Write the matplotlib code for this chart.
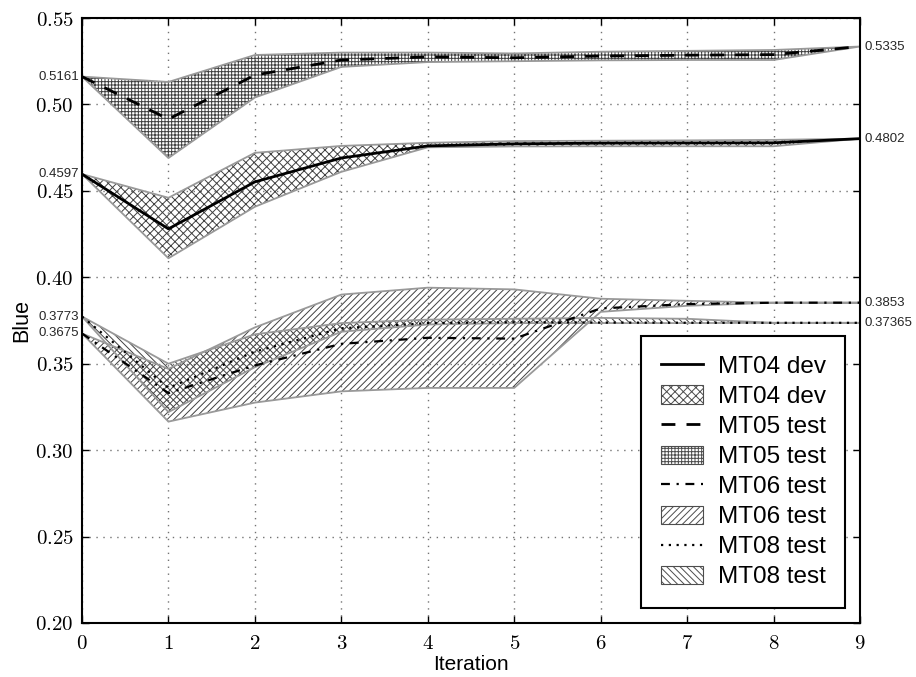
import matplotlib
matplotlib.use("Agg")
import matplotlib.pyplot as plt
import matplotlib.patches as mpatches
from matplotlib.lines import Line2D
import numpy as np

# ---------------- data ----------------
iterations = [0, 1, 2, 3, 4, 5, 6, 7, 8, 9]

mt04_dev = [0.4597, 0.428, 0.4552, 0.469, 0.476, 0.4772, 0.4776, 0.4777, 0.4778, 0.4802]
mt04_low = [0.4597, 0.411, 0.4408, 0.461, 0.4752, 0.4757, 0.4758, 0.4758, 0.4758, 0.4802]
mt04_up = [0.4597, 0.446, 0.472, 0.476, 0.4778, 0.4788, 0.479, 0.4792, 0.4795, 0.4802]

mt05_test = [0.5161, 0.4915, 0.517, 0.5257, 0.5275, 0.527, 0.528, 0.5285, 0.5288, 0.5335]
mt05_low = [0.5161, 0.469, 0.504, 0.5217, 0.5245, 0.525, 0.5255, 0.5257, 0.5257, 0.5335]
mt05_up = [0.5161, 0.513, 0.5286, 0.530, 0.530, 0.5295, 0.5305, 0.531, 0.5315, 0.5335]

mt06_test = [0.3675, 0.333, 0.349, 0.3615, 0.365, 0.3645, 0.382, 0.3845, 0.3853, 0.3853]
mt06_low = [0.3675, 0.3165, 0.3275, 0.334, 0.336, 0.336, 0.380, 0.3835, 0.3853, 0.3853]
mt06_up = [0.3675, 0.347, 0.371, 0.390, 0.394, 0.393, 0.3876, 0.3864, 0.3853, 0.3853]

mt08_test = [0.3773, 0.336, 0.357, 0.3705, 0.3735, 0.374, 0.3738, 0.3737, 0.37365, 0.37365]
mt08_low = [0.3773, 0.322, 0.348, 0.3685, 0.3727, 0.3735, 0.3735, 0.3735, 0.37365, 0.37365]
mt08_up = [0.3773, 0.350, 0.367, 0.3735, 0.3755, 0.376, 0.3765, 0.376, 0.37365, 0.37365]

start_labels = ["0.5161", "0.4597", "0.3773", "0.3675"]
start_values = [0.5161, 0.4597, 0.3773, 0.3675]
end_labels = ["0.5335", "0.4802", "0.3853", "0.37365"]
end_values = [0.5335, 0.4802, 0.3853, 0.37365]

ytick_values = [0.20, 0.25, 0.30, 0.35, 0.40, 0.45, 0.50, 0.55]
ytick_labels = ["0.20", "0.25", "0.30", "0.35", "0.40", "0.45", "0.50", "0.55"]
xtick_labels = ["0", "1", "2", "3", "4", "5", "6", "7", "8", "9"]

legend_labels = ["MT04 dev", "MT04 dev", "MT05 test", "MT05 test",
                 "MT06 test", "MT06 test", "MT08 test", "MT08 test"]

# ---------------- style ----------------
plt.rcParams['mathtext.fontset'] = 'cm'
plt.rcParams['font.family'] = ['Liberation Sans', 'DejaVu Sans']
plt.rcParams['hatch.linewidth'] = 0.7

fig = plt.figure(figsize=(9.16, 6.77), dpi=100)
ax = fig.add_axes([82 / 916, 1 - 623 / 677, (860 - 82) / 916, (623 - 18) / 677])

hatch_col = '0.25'
edge_col = '0.6'

bands = [
    (mt04_low, mt04_up, 'xxxx'),
    (mt05_low, mt05_up, '+++++'),
    (mt06_low, mt06_up, '/////'),
    (mt08_low, mt08_up, '\\\\\\\\\\'),
]
for low, up, h in bands:
    ax.fill_between(iterations, low, up, facecolor='none', edgecolor=hatch_col,
                    hatch=h, linewidth=0, zorder=2)
    ax.fill_between(iterations, low, up, facecolor='none', edgecolor=edge_col,
                    linewidth=1.3, zorder=2.5)

l04, = ax.plot(iterations, mt04_dev, color='black', lw=2.0, ls='-', zorder=3)
l05, = ax.plot(iterations, mt05_test, color='black', lw=2.0, ls=(0, (5, 4)), zorder=3)
l06, = ax.plot(iterations, mt06_test, color='black', lw=1.6, ls=(0, (4, 3, 1, 3)), zorder=3)
l08, = ax.plot(iterations, mt08_test, color='black', lw=1.6, ls=(0, (1, 2.5)), zorder=3)

ax.set_xlim(0, 9)
ax.set_ylim(0.20, 0.55)
ax.set_xticks(iterations)
ax.set_xticklabels(["$" + t + "$" for t in xtick_labels], fontsize=15)
ax.set_yticks(ytick_values)
ax.set_yticklabels(["$" + t + "$" for t in ytick_labels], fontsize=15)
ax.tick_params(direction='in', length=5, width=1, top=True, right=True, pad=6)
ax.tick_params(axis='x', pad=8)
ax.grid(True, color='0.45', linestyle=(0, (1, 4)), linewidth=1)
for s in ax.spines.values():
    s.set_linewidth(1.5)

ax.set_xlabel("Iteration", fontsize=15, labelpad=1)
ax.set_ylabel("Blue", fontsize=15.5, labelpad=2)

for lab, v in zip(start_labels, start_values):
    ax.annotate(lab, xy=(0, v), xycoords=('axes fraction', 'data'),
                xytext=(-2, 0), textcoords='offset points', ha='right', va='center',
                fontsize=9.5, color='0.15')
for lab, v in zip(end_labels, end_values):
    ax.annotate(lab, xy=(1, v), xycoords=('axes fraction', 'data'),
                xytext=(3, 0), textcoords='offset points', ha='left', va='center',
                fontsize=9.5, color='0.15')

def hpatch(h):
    return mpatches.Patch(facecolor='white', edgecolor='0.3', hatch=h, linewidth=0.8)

handles = [
    Line2D([], [], color='black', lw=2.0, ls='-'),
    hpatch('xxxx'),
    Line2D([], [], color='black', lw=2.0, ls=(0, (5, 4))),
    hpatch('+++++'),
    Line2D([], [], color='black', lw=1.6, ls=(0, (4, 3, 1, 3))),
    hpatch('/////'),
    Line2D([], [], color='black', lw=1.6, ls=(0, (1, 2.5))),
    hpatch('\\\\\\\\\\'),
]
leg = ax.legend(handles, legend_labels, loc='lower right', fontsize=17.5,
                fancybox=False, framealpha=1, edgecolor='black',
                handlelength=1.75, handleheight=0.8, handletextpad=0.6,
                labelspacing=0.3, borderpad=0.8, borderaxespad=0,
                bbox_to_anchor=(0.981, 0.025))
leg.get_frame().set_linewidth(1.5)

fig.savefig("out.png", dpi=100)
